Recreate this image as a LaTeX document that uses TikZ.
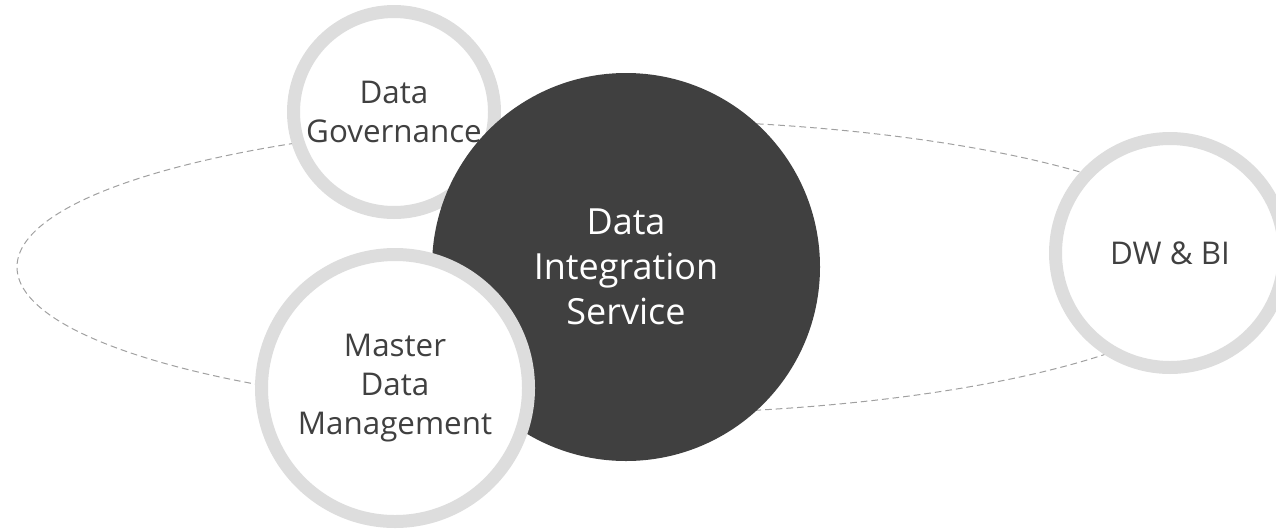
\documentclass[tikz,border=0pt]{standalone}
\usepackage{fontspec}
\setmainfont{Open Sans}
\definecolor{hubgray}{HTML}{404040}
\definecolor{ringgray}{HTML}{DDDDDD}
\definecolor{labelgray}{HTML}{404040}
\definecolor{dashgray}{HTML}{A0A0A0}
\tikzstyle{ring} = [circle, draw=ringgray, line width=9.75pt, fill=white,
    inner sep=0pt, align=center, text=labelgray, font=\fontsize{23.5}{29}\selectfont]
\tikzstyle{hub} = [circle, fill=hubgray, inner sep=0pt, minimum size=291pt,
    align=center, text=white, font=\fontsize{27}{33.75}\selectfont]
\tikzstyle{orbit} = [draw=dashgray, line width=0.75pt, dash pattern=on 5pt off 3pt]

\begin{document}
\begin{tikzpicture}[x=0.75pt, y=-0.75pt]
		% Canvas
		\useasboundingbox (0,0) rectangle (1276,529);
		% Dashed orbit behind the circles
		\coordinate (orbitcentre) at (620,267);
		\draw [orbit] (orbitcentre) ellipse [x radius=452.25pt, y radius=110.25pt];
		% Draw nodes
		\node [ring, minimum size=150.75pt] (governance) at (394,112) {Data\\Governance};
		\node [hub] (integration) at (626,267) {Data\\Integration\\Service};
		\node [ring, minimum size=200.25pt] (masterdata) at (395,388) {Master\\Data\\Management};
		\node [ring, minimum size=171.75pt] (dwbi) at (1170,253) {DW \& BI};
	\end{tikzpicture}
\end{document}
